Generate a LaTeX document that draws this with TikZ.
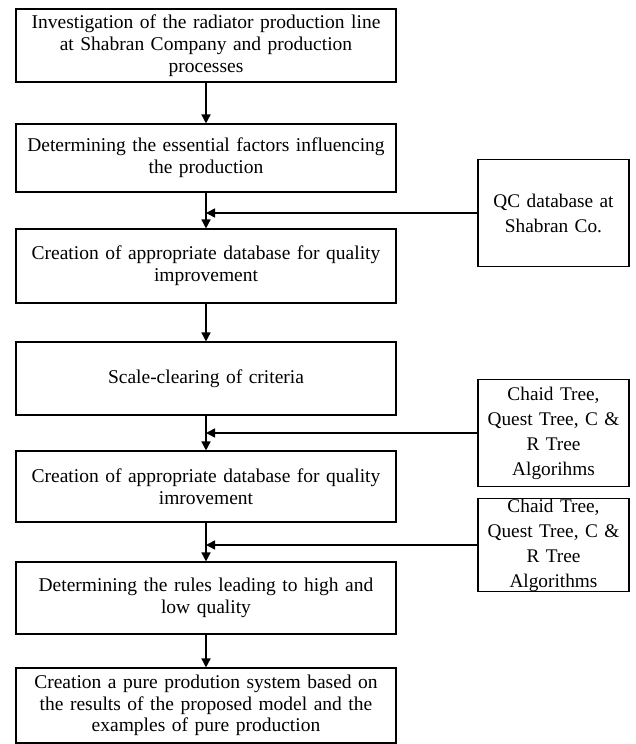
\documentclass[tikz,border=0pt]{standalone}
\usepackage{fontspec}
\setmainfont{Liberation Serif}
\usetikzlibrary{arrows.meta}
\begin{document}
\begin{tikzpicture}[x=1pt,y=-1pt,
  stagebox/.style={draw, line width=1.1pt, inner sep=0pt, minimum width=380pt,
    text width=376pt, align=center, font=\fontsize{19.5}{21.8}\selectfont},
  sidebox/.style={draw, line width=1.1pt, inner sep=0pt, minimum width=151pt,
    text width=148pt, align=center, font=\fontsize{19.3}{25}\selectfont},
  flow/.style={line width=1.5pt, -{Triangle[length=9pt,width=9pt]}}]
\useasboundingbox (0,0) rectangle (635,744);

% main sequence of stages
\node[stagebox, minimum height=73pt] (b1) at (206,45.5)
  {Investigation of the radiator production line\\ at Shabran Company and production\\ processes};
\node[stagebox, minimum height=68pt] (b2) at (206,158)
  {Determining the essential factors influencing\\ the production};
\node[stagebox, minimum height=74pt] (b3) at (206,266)
  {Creation of appropriate database for quality\\ improvement};
\node[stagebox, minimum height=73pt] (b4) at (206,378.5)
  {Scale-clearing of criteria};
\node[stagebox, minimum height=71pt] (b5) at (206,486.5)
  {Creation of appropriate database for quality\\ imrovement};
\node[stagebox, minimum height=72pt] (b6) at (206,598)
  {Determining the rules leading to high and\\ low quality};
\node[stagebox, minimum height=75pt] (b7) at (206,705.5)
  {Creation a pure prodution system based on\\ the results of the proposed model and the\\ examples of pure production};

% side inputs
\node[sidebox, minimum height=107pt] (qc) at (553.5,213)
  {QC database at\\ Shabran Co.};
\node[sidebox, minimum height=107pt] (c1) at (553.5,433)
  {Chaid Tree,\\ Quest Tree, C \&\\ R Tree\\ Algorihms};
\node[sidebox, minimum height=92pt] (c2) at (553.5,545)
  {Chaid Tree,\\ Quest Tree, C \&\\ R Tree\\ Algorithms};

% vertical flow
\draw[flow] (b1) -- (b2);
\draw[flow] (b2) -- (b3);
\draw[flow] (b3) -- (b4);
\draw[flow] (b4) -- (b5);
\draw[flow] (b5) -- (b6);
\draw[flow] (b6) -- (b7);

% side connectors joining the flow
\draw[flow] (qc.west) -- (qc.west -| b2.south);
\draw[flow] (c1.west) -- (c1.west -| b4.south);
\draw[flow] (c2.west) -- (c2.west -| b5.south);
\end{tikzpicture}
\end{document}
